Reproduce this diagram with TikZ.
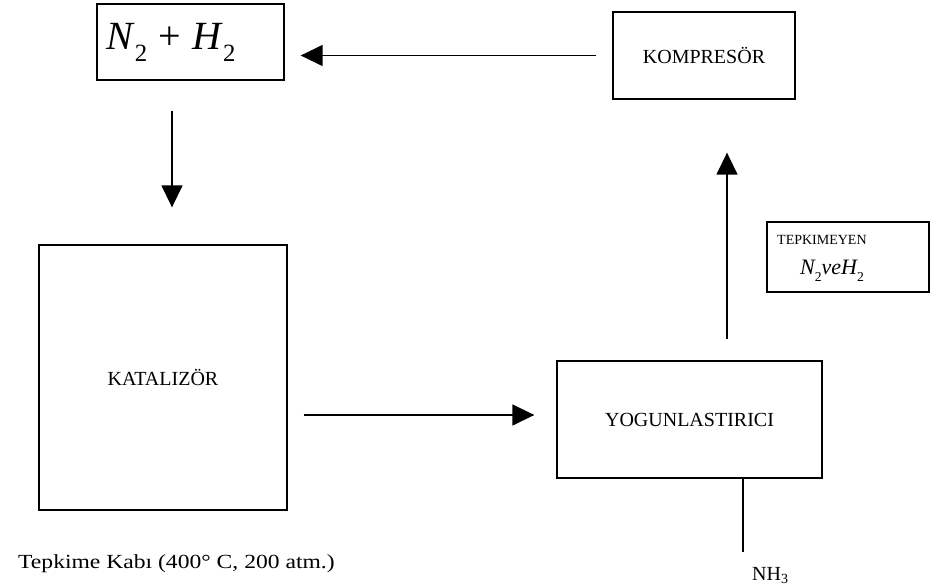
\documentclass[tikz,border=0pt]{standalone}
\usepackage{fontspec}
\setmainfont{Liberation Serif}
\usetikzlibrary{arrows.meta}
\newcommand{\lowsub}[1]{\raisebox{-0.28em}{\fontsize{0.62em}{0.7em}\selectfont\upshape #1}}
\begin{document}
\begin{tikzpicture}[x=1pt,y=-1pt,
  box/.style={draw, line width=1.3pt, inner sep=0pt},
  arr/.style={-{Triangle[length=22pt,width=21pt]}, line width=1.4pt},
  ln/.style={line width=1.4pt},
  lbl/.style={font=\fontsize{20}{23}\selectfont, inner sep=0pt}]
\useasboundingbox (0,0) rectangle (930,588);
% boxes
\node[box, minimum width=187pt, minimum height=76pt] (n2) at (190.5,42) {};
\node[box, minimum width=182pt, minimum height=87pt, lbl] (komp) at (704,55.5) {KOMPRES\"OR};
\node[box, minimum width=248pt, minimum height=265pt, lbl] (kat) at (163,377.5) {KATALIZ\"OR};
\node[box, minimum width=265pt, minimum height=117pt, lbl] (yog) at (689.5,419.5) {YOGUNLASTIRICI};
\node[box, minimum width=162pt, minimum height=70pt] (tep) at (848,257) {};
% texts
\node[anchor=base west, inner sep=0pt, font=\fontsize{40}{44}\selectfont] (n2t) at (106,50)
  {\itshape N\kern0.05em\lowsub{2}\hspace{0.28em}\upshape+\hspace{0.28em}\itshape H\kern0.05em\lowsub{2}};
\node[anchor=base west, inner sep=0pt, font=\fontsize{14}{16}\selectfont] (tept) at (777,245) {TEPKIMEYEN};
\node[anchor=base west, inner sep=0pt, font=\fontsize{22}{24}\selectfont] (tepm) at (800,275)
  {\itshape N\lowsub{2}veH\lowsub{2}};
\node[anchor=base west, inner sep=0pt, font=\fontsize{20}{23}\selectfont] (kab) at (18,568)
  {\scalebox{1.18}[1]{Tepkime Kabı (400° C, 200 atm.)}};
\node[anchor=base west, inner sep=0pt, font=\fontsize{20}{23}\selectfont] (nh3) at (752,580) {NH\textsubscript{3}};
% connectors
\coordinate (nhend) at (743,552);
\draw[arr, shorten <=16pt, shorten >=16pt] (komp.west) -- (komp.west -| n2.east);
\draw[arr, shorten <=30pt, shorten >=37pt] (n2.south -| 172,0) -- (kat.north -| 172,0);
\draw[arr, shorten <=16pt, shorten >=22pt] (kat.east |- 0,415) -- (yog.west |- 0,415);
\draw[arr, shorten <=21pt, shorten >=53pt] (yog.north -| 727,0) -- (komp.south -| 727,0);
\draw[ln] (yog.south -| nhend) -- (nhend);
\end{tikzpicture}
\end{document}
